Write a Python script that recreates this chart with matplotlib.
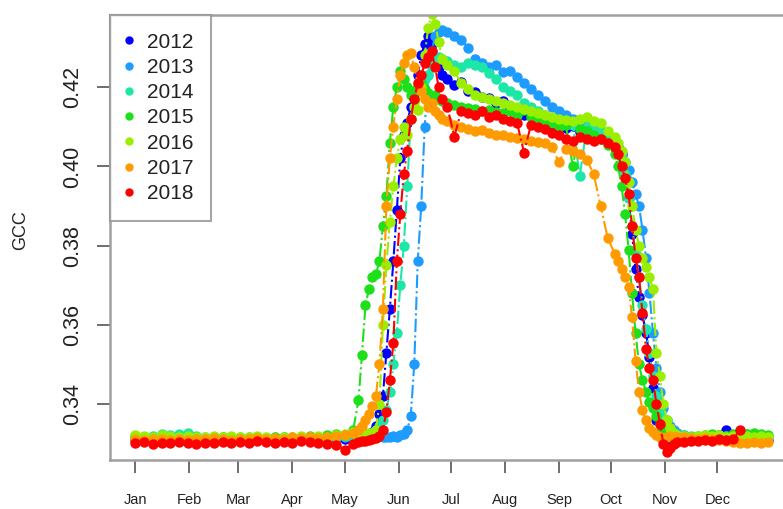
import numpy as np
import matplotlib
matplotlib.use("Agg")
import matplotlib.pyplot as plt
from matplotlib.lines import Line2D

# day of year for every sample (denser around green-up and senescence)
days = [1, 6, 11, 16, 21, 26, 31, 36, 41, 46, 51, 56, 61, 66, 71, 76, 81, 86, 91, 96,
        101, 106, 111, 116, 121, 126,
        129, 131, 133, 135, 137, 139, 141, 143, 145, 147, 149, 151, 153, 155, 157, 159,
        161, 163, 165, 167, 169, 171, 173, 175, 177,
        180, 184, 188, 192, 196, 200, 204, 208, 212, 216, 220, 224, 228, 232, 236, 240,
        244, 248, 252, 256, 260, 264, 268, 272, 276,
        278, 280, 282, 284, 286, 288, 290, 292, 294, 296, 298, 300, 302, 304, 306, 308,
        310, 312,
        316, 320, 324, 328, 332, 336, 340, 344, 348, 352, 356, 360, 364]

gcc_2012 = [0.3310, 0.3308, 0.3312, 0.3309, 0.3311, 0.3307, 0.3310, 0.3312, 0.3309, 0.3311,
            0.3313, 0.3310, 0.3312, 0.3314, 0.3311, 0.3313, 0.3312, 0.3315, 0.3313, 0.3312,
            0.3316, 0.3314, 0.3312, 0.3315, 0.3313, 0.3316,
            0.3315, 0.3318, 0.3320, 0.3324, 0.3330, 0.3345, 0.3375, 0.3420, 0.3530, 0.3640,
            0.3760, 0.3890, 0.4020, 0.4080, 0.4110, 0.4150, 0.4180, 0.4230, 0.4280, 0.4310,
            0.4330, 0.4310, 0.4270, 0.4250, 0.4230,
            0.4220, 0.4205, 0.4212, 0.4190, 0.4188, 0.4175, 0.4172, 0.4160, 0.4165, 0.4148,
            0.4142, 0.4130, 0.4136, 0.4118, 0.4120, 0.4105, 0.4110, 0.4098, 0.4102, 0.4088,
            0.4092, 0.4080, 0.4078, 0.4072, 0.4060,
            0.4050, 0.4030, 0.3990, 0.3920, 0.3830, 0.3740, 0.3670, 0.3625, 0.3580, 0.3520,
            0.3440, 0.3360, 0.3320, 0.3310, 0.3305, 0.3308, 0.3312, 0.3310,
            0.3312, 0.3315, 0.3318, 0.3320, 0.3316, 0.3322, 0.3335, 0.3318, 0.3314, 0.3312,
            0.3315, 0.3312, 0.3310]

gcc_2013 = [0.3312, 0.3310, 0.3314, 0.3311, 0.3313, 0.3309, 0.3312, 0.3314, 0.3311, 0.3313,
            0.3310, 0.3314, 0.3312, 0.3315, 0.3313, 0.3311, 0.3314, 0.3316, 0.3313, 0.3312,
            0.3315, 0.3317, 0.3314, 0.3316, 0.3318, 0.3315,
            0.3316, 0.3318, 0.3315, 0.3318, 0.3320, 0.3317, 0.3319, 0.3318, 0.3316, 0.3318,
            0.3320, 0.3318, 0.3322, 0.3325, 0.3335, 0.3370, 0.3500, 0.3760, 0.3900, 0.4100,
            0.4230, 0.4290, 0.4330, 0.4340, 0.4345,
            0.4340, 0.4330, 0.4320, 0.4300, 0.4270, 0.4262, 0.4250, 0.4255, 0.4238, 0.4240,
            0.4225, 0.4210, 0.4195, 0.4180, 0.4165, 0.4150, 0.4140, 0.4130, 0.4120, 0.4115,
            0.4110, 0.4100, 0.4090, 0.4080, 0.4060,
            0.4050, 0.4030, 0.4010, 0.3990, 0.3960, 0.3930, 0.3900, 0.3840, 0.3770, 0.3680,
            0.3580, 0.3490, 0.3430, 0.3390, 0.3360, 0.3345, 0.3335, 0.3328,
            0.3322, 0.3318, 0.3316, 0.3318, 0.3315, 0.3317, 0.3314, 0.3316, 0.3318, 0.3315,
            0.3313, 0.3316, 0.3314]

gcc_2014 = [0.3315, 0.3318, 0.3320, 0.3325, 0.3322, 0.3324, 0.3326, 0.3320, 0.3318, 0.3315,
            0.3317, 0.3314, 0.3316, 0.3318, 0.3315, 0.3313, 0.3316, 0.3314, 0.3317, 0.3315,
            0.3313, 0.3316, 0.3314, 0.3317, 0.3319, 0.3318,
            0.3318, 0.3320, 0.3322, 0.3325, 0.3328, 0.3335, 0.3345, 0.3360, 0.3385, 0.3430,
            0.3500, 0.3580, 0.3700, 0.3800, 0.3950, 0.4120, 0.4190, 0.4200, 0.4210, 0.4220,
            0.4230, 0.4250, 0.4265, 0.4275, 0.4270,
            0.4265, 0.4255, 0.4250, 0.4260, 0.4255, 0.4250, 0.4235, 0.4220, 0.4200, 0.4190,
            0.4180, 0.4160, 0.4150, 0.4140, 0.4130, 0.4120, 0.4115, 0.4110, 0.4105, 0.3975,
            0.4100, 0.4095, 0.4085, 0.4075, 0.4060,
            0.4045, 0.4020, 0.3980, 0.3920, 0.3850, 0.3780, 0.3720, 0.3650, 0.3590, 0.3530,
            0.3470, 0.3420, 0.3380, 0.3350, 0.3330, 0.3322, 0.3318, 0.3320,
            0.3322, 0.3320, 0.3318, 0.3321, 0.3319, 0.3322, 0.3320, 0.3323, 0.3321, 0.3324,
            0.3322, 0.3320, 0.3318]

gcc_2015 = [0.3320, 0.3318, 0.3316, 0.3315, 0.3317, 0.3314, 0.3316, 0.3318, 0.3315, 0.3313,
            0.3316, 0.3314, 0.3312, 0.3315, 0.3317, 0.3314, 0.3316, 0.3318, 0.3315, 0.3317,
            0.3320, 0.3318, 0.3322, 0.3325, 0.3322, 0.3335,
            0.3410, 0.3525, 0.3650, 0.3690, 0.3720, 0.3728, 0.3760, 0.3850, 0.3925, 0.4060,
            0.4150, 0.4200, 0.4240, 0.4220, 0.4200, 0.4180, 0.4190, 0.4200, 0.4210, 0.4195,
            0.4185, 0.4175, 0.4180, 0.4170, 0.4165,
            0.4160, 0.4155, 0.4150, 0.4148, 0.4145, 0.4140, 0.4142, 0.4138, 0.4135, 0.4140,
            0.4130, 0.4143, 0.4125, 0.4118, 0.4115, 0.4110, 0.4100, 0.4105, 0.4000, 0.4095,
            0.4090, 0.4080, 0.4070, 0.4055, 0.4030,
            0.4000, 0.3950, 0.3880, 0.3790, 0.3680, 0.3580, 0.3500, 0.3460, 0.3430, 0.3405,
            0.3390, 0.3370, 0.3350, 0.3335, 0.3325, 0.3320, 0.3318, 0.3322,
            0.3320, 0.3318, 0.3320, 0.3322, 0.3325, 0.3323, 0.3320, 0.3325, 0.3327, 0.3324,
            0.3328, 0.3325, 0.3322]

gcc_2016 = [0.3322, 0.3320, 0.3318, 0.3321, 0.3319, 0.3317, 0.3320, 0.3318, 0.3316, 0.3319,
            0.3317, 0.3320, 0.3318, 0.3316, 0.3319, 0.3317, 0.3315, 0.3318, 0.3316, 0.3319,
            0.3317, 0.3320, 0.3318, 0.3321, 0.3324, 0.3330,
            0.3322, 0.3320, 0.3324, 0.3326, 0.3328, 0.3335, 0.3400, 0.3600, 0.3750, 0.3860,
            0.3950, 0.4020, 0.4070, 0.4100, 0.4080, 0.4120, 0.4150, 0.4143, 0.4200, 0.4280,
            0.4350, 0.4385, 0.4360, 0.4315, 0.4270,
            0.4255, 0.4240, 0.4210, 0.4195, 0.4180, 0.4175, 0.4170, 0.4165, 0.4160, 0.4155,
            0.4150, 0.4145, 0.4140, 0.4135, 0.4130, 0.4125, 0.4120, 0.4118, 0.4115, 0.4120,
            0.4125, 0.4115, 0.4110, 0.4090, 0.4075,
            0.4060, 0.4040, 0.4010, 0.3960, 0.3900, 0.3840, 0.3800, 0.3770, 0.3745, 0.3720,
            0.3690, 0.3530, 0.3470, 0.3400, 0.3360, 0.3340, 0.3328, 0.3322,
            0.3320, 0.3318, 0.3320, 0.3322, 0.3319, 0.3321, 0.3318, 0.3320, 0.3322, 0.3319,
            0.3317, 0.3320, 0.3318]

gcc_2017 = [0.3312, 0.3310, 0.3313, 0.3311, 0.3309, 0.3312, 0.3310, 0.3313, 0.3311, 0.3314,
            0.3312, 0.3310, 0.3313, 0.3311, 0.3314, 0.3312, 0.3315, 0.3313, 0.3316, 0.3314,
            0.3317, 0.3315, 0.3318, 0.3320, 0.3322, 0.3328,
            0.3335, 0.3345, 0.3360, 0.3375, 0.3395, 0.3420, 0.3500, 0.3640, 0.3900, 0.4020,
            0.4100, 0.4170, 0.4230, 0.4260, 0.4280, 0.4285, 0.4250, 0.4210, 0.4190, 0.4170,
            0.4150, 0.4160, 0.4140, 0.4130, 0.4120,
            0.4115, 0.4105, 0.4100, 0.4095, 0.4090, 0.4093, 0.4085, 0.4080, 0.4078, 0.4075,
            0.4072, 0.4070, 0.4065, 0.4062, 0.4060, 0.4050, 0.4010, 0.4045, 0.4040, 0.4030,
            0.4017, 0.3980, 0.3900, 0.3820, 0.3780,
            0.3760, 0.3740, 0.3720, 0.3695, 0.3620, 0.3510, 0.3430, 0.3385, 0.3360, 0.3340,
            0.3330, 0.3322, 0.3318, 0.3315, 0.3318, 0.3320, 0.3316, 0.3318,
            0.3316, 0.3314, 0.3312, 0.3315, 0.3312, 0.3310, 0.3308, 0.3305, 0.3303, 0.3302,
            0.3304, 0.3303, 0.3305]

gcc_2018 = [0.3302, 0.3305, 0.3300, 0.3303, 0.3301, 0.3304, 0.3302, 0.3299, 0.3303, 0.3301,
            0.3304, 0.3302, 0.3305, 0.3303, 0.3306, 0.3304, 0.3302, 0.3305, 0.3303, 0.3306,
            0.3304, 0.3302, 0.3300, 0.3298, 0.3285, 0.3300,
            0.3304, 0.3306, 0.3308, 0.3310, 0.3312, 0.3315, 0.3320, 0.3335, 0.3380, 0.3460,
            0.3555, 0.3760, 0.3880, 0.3980, 0.4040, 0.4120, 0.4170, 0.4210, 0.4230, 0.4260,
            0.4275, 0.4290, 0.4250, 0.4200, 0.4170,
            0.4150, 0.4075, 0.4140, 0.4135, 0.4130, 0.4140, 0.4125, 0.4130, 0.4120, 0.4115,
            0.4110, 0.4035, 0.4105, 0.4100, 0.4095, 0.4085, 0.4080, 0.4070, 0.4065, 0.4075,
            0.4070, 0.4065, 0.4068, 0.4060, 0.4050,
            0.4030, 0.4000, 0.3970, 0.3930, 0.3850, 0.3770, 0.3720, 0.3630, 0.3540, 0.3490,
            0.3460, 0.3400, 0.3350, 0.3300, 0.3280, 0.3290, 0.3300, 0.3305,
            0.3305, 0.3308, 0.3306, 0.3310, 0.3308, 0.3311, 0.3309, 0.3312, 0.3335, np.nan,
            np.nan, np.nan, np.nan]

years = ["2012", "2013", "2014", "2015", "2016", "2017", "2018"]
colors = ["#0000FF", "#1E9BFF", "#1CE6A8", "#1EE01A", "#9AEF00", "#FF9A00", "#FF0000"]

month_days = [1, 32, 60, 91, 121, 152, 182, 213, 244, 274, 305, 335]
month_labels = ["Jan", "Feb", "Mar", "Apr", "May", "Jun", "Jul", "Aug", "Sep", "Oct", "Nov", "Dec"]

plt.rcParams["font.family"] = ["Liberation Sans", "DejaVu Sans"]

fig = plt.figure(figsize=(7.83, 5.09), dpi=100)
ax = fig.add_axes([0.1405, 0.0963, 0.875, 0.8742])

series = [gcc_2012, gcc_2013, gcc_2014, gcc_2015, gcc_2016, gcc_2017, gcc_2018]
for vals, col in zip(series, colors):
    ax.plot(days, vals, color=col, linestyle="-.", linewidth=1.5,
            marker="o", markersize=7.5, markeredgewidth=0)

ax.set_xlim(-13.6, 379.6)
ax.set_ylim(0.3259, 0.4382)

ax.set_xticks(month_days, month_labels, fontsize=10.5)
ax.set_yticks([0.34, 0.36, 0.38, 0.40, 0.42], ["0.34", "0.36", "0.38", "0.40", "0.42"],
              fontsize=15.5, rotation=90, va="center")
ax.tick_params(axis="x", length=9.5, width=1.2, color="#555555", pad=14, labelcolor="#222222")
ax.tick_params(axis="y", length=9.5, width=1.2, color="#555555", pad=10, labelcolor="#222222")
ax.set_ylabel("GCC", fontsize=13, color="#222222", va="center")
ax.yaxis.set_label_coords(-0.131, 0.517)

for sp in ax.spines.values():
    sp.set_color("#a0a0a0")
    sp.set_linewidth(1.8)

handles = [Line2D([], [], linestyle="none", marker="o", markersize=6,
                  markeredgewidth=0, color=c) for c in colors]
leg = ax.legend(handles, years, loc="upper left", bbox_to_anchor=(0, 1),
                borderaxespad=0, fontsize=15, frameon=True, fancybox=False,
                handlelength=0.15, handletextpad=0.78, labelspacing=0.3,
                borderpad=0.85)
leg.get_frame().set_edgecolor("#909090")
leg.get_frame().set_linewidth(1.5)
for t in leg.get_texts():
    t.set_color("#222222")

fig.savefig("out.png", dpi=100)
